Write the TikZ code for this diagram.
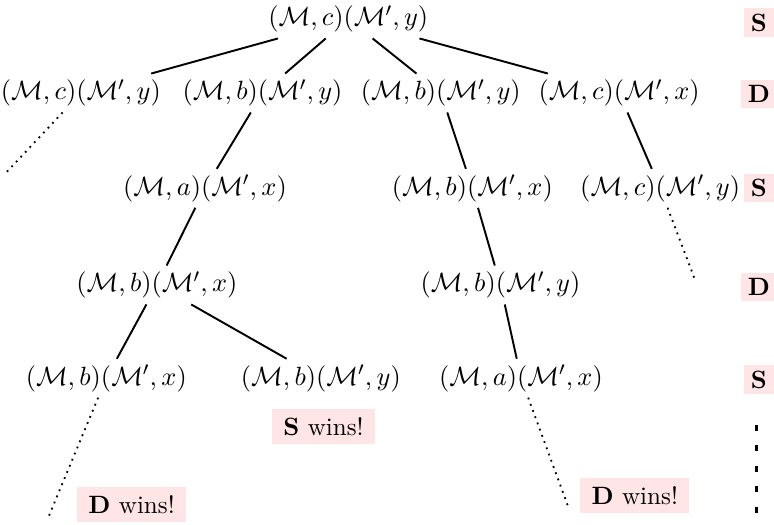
\documentclass[tikz,border=0pt]{standalone}
\usepackage{amsmath,amssymb}
\usepackage{tikz}
\usetikzlibrary{positioning}
\usepackage{xcolor}
\newcommand\treefont{\fontsize{10.4pt}{12.5pt}\selectfont}
\newcommand\statefont{\fontsize{10.9pt}{13pt}\selectfont}

\begin{document}
\begin{tikzpicture}[
  state/.style={inner sep=2.3pt,font=\statefont},
  turn/.style={fill=red!10,inner xsep=3pt,inner ysep=2.2pt,font=\treefont\bfseries},
  win/.style={fill=red!10,inner xsep=4.7pt,inner ysep=3.5pt,font=\treefont},
  move/.style={thick},
  cont/.style={line width=0.75pt,dotted}
]
\useasboundingbox (0,0.277) rectangle (11.29,-7.37);
% game positions
\node[state] (cy) at (5.08,0) {$(\mathcal{M},c)(\mathcal{M}',y)$};
\node[state] (cy1) at (1.18,-1.08) {$(\mathcal{M},c)(\mathcal{M}',y)$};
\node[state] (by1) at (3.83,-1.08) {$(\mathcal{M},b)(\mathcal{M}',y)$};
\node[state] (by2) at (6.43,-1.08) {$(\mathcal{M},b)(\mathcal{M}',y)$};
\node[state] (cx1) at (9.03,-1.08) {$(\mathcal{M},c)(\mathcal{M}',x)$};
\node[state] (ax1) at (2.99,-2.47) {$(\mathcal{M},a)(\mathcal{M}',x)$};
\node[state] (bx2) at (6.89,-2.47) {$(\mathcal{M},b)(\mathcal{M}',x)$};
\node[state] (cy2) at (9.63,-2.47) {$(\mathcal{M},c)(\mathcal{M}',y)$};
\node[state] (bx3) at (2.29,-3.88) {$(\mathcal{M},b)(\mathcal{M}',x)$};
\node[state] (by3) at (7.30,-3.88) {$(\mathcal{M},b)(\mathcal{M}',y)$};
\node[state] (bx4) at (1.55,-5.24) {$(\mathcal{M},b)(\mathcal{M}',x)$};
\node[state] (by4) at (4.68,-5.24) {$(\mathcal{M},b)(\mathcal{M}',y)$};
\node[state] (ax4) at (7.60,-5.24) {$(\mathcal{M},a)(\mathcal{M}',x)$};
% outcomes
\node[win] (swin) at (4.72,-5.94) {\textbf{S} wins!};
\node[win] (dwin1) at (1.92,-7.08) {\textbf{D} wins!};
\node[win] (dwin2) at (9.26,-6.95) {\textbf{D} wins!};
% whose turn
\node[turn] (t0) at (11.07,-0.05) {S};
\node[turn] (t1) at (11.07,-1.10) {D};
\node[turn] (t2) at (11.07,-2.47) {S};
\node[turn] (t3) at (11.07,-3.91) {D};
\node[turn] (t4) at (11.07,-5.26) {S};
% loose ends
\coordinate (e1) at (0.10,-2.23);
\coordinate (e2) at (10.14,-3.81);
\coordinate (e3) at (0.70,-7.28);
\coordinate (e4) at (8.29,-7.12);
\coordinate (v0) at (11.03,-5.92);
\coordinate (v1) at (11.03,-7.22);
% moves
\draw[move] (cy) -- (cy1);
\draw[move] (cy) -- (by1);
\draw[move] (cy) -- (by2);
\draw[move] (cy) -- (cx1);
\draw[move] (by1) -- (ax1);
\draw[move] (by2) -- (bx2);
\draw[move] (cx1) -- (cy2);
\draw[move] (ax1) -- (bx3);
\draw[move] (bx2) -- (by3);
\draw[move] (bx3) -- (bx4);
\draw[move] (bx3) -- (by4);
\draw[move] (by3) -- (ax4);
\draw[cont] (cy1) -- (e1);
\draw[cont] (cy2) -- (e2);
\draw[cont] (bx4) -- (e3);
\draw[cont] (ax4) -- (e4);
\draw[line width=1.2pt,dash pattern=on 2.4pt off 6.1pt] (v0) -- (v1);
\end{tikzpicture}
\end{document}
